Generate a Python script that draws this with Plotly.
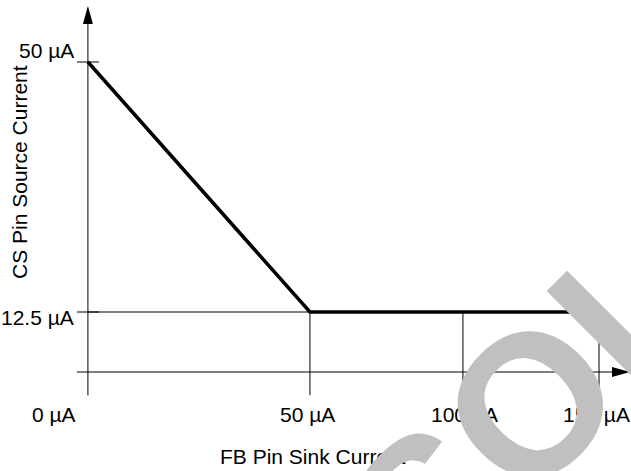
import numpy as np
import plotly.graph_objects as go

# ---------------- data ----------------
fb_sink_current_uA = [0, 50, 150]
cs_source_current_uA = [50, 12.5, 12.5]
x_tick_values_uA = [0, 50, 100, 150]
x_tick_labels = ["0 µA", "50 µA", "100 µA", "150 µA"]
y_tick_values_uA = [50, 12.5]
y_tick_labels = ["50 µA", "12.5 µA"]
x_axis_title = "FB Pin Sink Current"
y_axis_title = "CS Pin Source Current"
watermark_text = "OBSOLETE"

# ---------------- schematic scale / style ----------------
# the original drawing uses a non-proportional (schematic) horizontal scale
X_STOPS_UA = [0, 50, 100, 150]
X_STOPS_AXIS = [0.0, 1.0, 1.689, 2.302]


def sx(v):
    return [float(t) for t in np.interp(np.atleast_1d(v), X_STOPS_UA, X_STOPS_AXIS)]


X_RANGE = [-0.396, 2.446]
Y_RANGE = [-11.35, 59.3]
PX_PER_X = 631 / (X_RANGE[1] - X_RANGE[0])
PX_PER_Y = 471 / (Y_RANGE[1] - Y_RANGE[0])

AXIS_Y = 3.5            # where the horizontal axis arrow is drawn
STUB = 11 / PX_PER_X    # tick stub length left of the vertical axis
ARROW_LEN = 18
ARROW_HALF = 5
Y_TIP = Y_RANGE[1] - 6 / PX_PER_Y
X_TIP = X_RANGE[1] - 1 / PX_PER_X

FONT = dict(family="Arial, Liberation Sans, Helvetica, sans-serif", size=21, color="black")
THIN = dict(color="black", width=1)

fig = go.Figure()
fig.add_trace(go.Scatter(
    x=sx(fb_sink_current_uA), y=cs_source_current_uA, mode="lines",
    line=dict(color="black", width=3.5), hoverinfo="skip", showlegend=False,
))

shapes = []
x0_axis = sx(0)[0]
# vertical axis
shapes.append(dict(type="line", xref="x", yref="y", x0=x0_axis, x1=x0_axis,
                   y0=0, y1=Y_TIP - ARROW_LEN / PX_PER_Y, line=THIN))
shapes.append(dict(type="path", xref="x", yref="y", xsizemode="pixel", ysizemode="pixel",
                   xanchor=x0_axis, yanchor=Y_TIP,
                   path=f"M0,0 L{-ARROW_HALF},{-ARROW_LEN} L{ARROW_HALF},{-ARROW_LEN} Z",
                   fillcolor="black", line=dict(width=0)))
# horizontal axis
shapes.append(dict(type="line", xref="x", yref="y", x0=x0_axis - STUB,
                   x1=X_TIP - ARROW_LEN / PX_PER_X, y0=AXIS_Y, y1=AXIS_Y, line=THIN))
shapes.append(dict(type="path", xref="x", yref="y", xsizemode="pixel", ysizemode="pixel",
                   xanchor=X_TIP, yanchor=AXIS_Y,
                   path=f"M0,0 L{-ARROW_LEN},{ARROW_HALF} L{-ARROW_LEN},{-ARROW_HALF} Z",
                   fillcolor="black", line=dict(width=0)))
# y tick stubs
for yv in y_tick_values_uA:
    shapes.append(dict(type="line", xref="x", yref="y", x0=x0_axis - STUB, x1=x0_axis + STUB,
                       y0=yv, y1=yv, line=THIN))
# guide lines from the plateau
plateau = cs_source_current_uA[-1]
knee = sx(fb_sink_current_uA[1])[0]
shapes.append(dict(type="line", xref="x", yref="y", x0=x0_axis, x1=knee,
                   y0=plateau, y1=plateau, line=THIN))
for xv in sx(x_tick_values_uA[1:]):
    shapes.append(dict(type="line", xref="x", yref="y", x0=xv, x1=xv,
                       y0=plateau, y1=0, line=THIN))

annotations = []
x_label_shift = [-34, -2, 2, -2.5]
for xv, txt, sh in zip(sx(x_tick_values_uA), x_tick_labels, x_label_shift):
    annotations.append(dict(x=xv, y=0, xref="x", yref="y", text=txt, showarrow=False,
                            xanchor="center", yanchor="middle", xshift=sh, yshift=-19,
                            font=FONT))
y_label_shift = [12, -5]
for yv, txt, sh in zip(y_tick_values_uA, y_tick_labels, y_label_shift):
    annotations.append(dict(x=x0_axis, y=yv, xref="x", yref="y", text=txt, showarrow=False,
                            xanchor="right", yanchor="middle", xshift=-12, yshift=sh,
                            font=FONT))
annotations.append(dict(x=313 / 631, y=(471 - 456) / 471, xref="paper", yref="paper",
                        text=x_axis_title, showarrow=False, xanchor="center",
                        yanchor="middle", font=FONT))
annotations.append(dict(x=19 / 631, y=(471 - 172) / 471, xref="paper", yref="paper",
                        text=y_axis_title, showarrow=False, textangle=-45 * 2,
                        xanchor="center", yanchor="middle", font=FONT))
# grey diagonal watermark on top (only "SOLE" of it falls inside the picture)
annotations.append(dict(x=557.5 / 631, y=(471 - 376.5) / 471, xref="paper", yref="paper",
                        text=f"<b>{watermark_text}</b>", showarrow=False, textangle=-45,
                        xanchor="center", yanchor="middle",
                        font=dict(family="Arial, Liberation Sans, Helvetica, sans-serif",
                                  size=200, color="#C0C0C0")))

fig.update_layout(
    width=631, height=471,
    margin=dict(l=0, r=0, t=0, b=0),
    paper_bgcolor="white", plot_bgcolor="white",
    xaxis=dict(range=X_RANGE, visible=False, fixedrange=True),
    yaxis=dict(range=Y_RANGE, visible=False, fixedrange=True),
    shapes=shapes, annotations=annotations, showlegend=False,
)
fig.write_html("out.html", config=dict(displayModeBar=False),
               post_script="document.body.style.margin='0';document.body.style.overflow='hidden';")
